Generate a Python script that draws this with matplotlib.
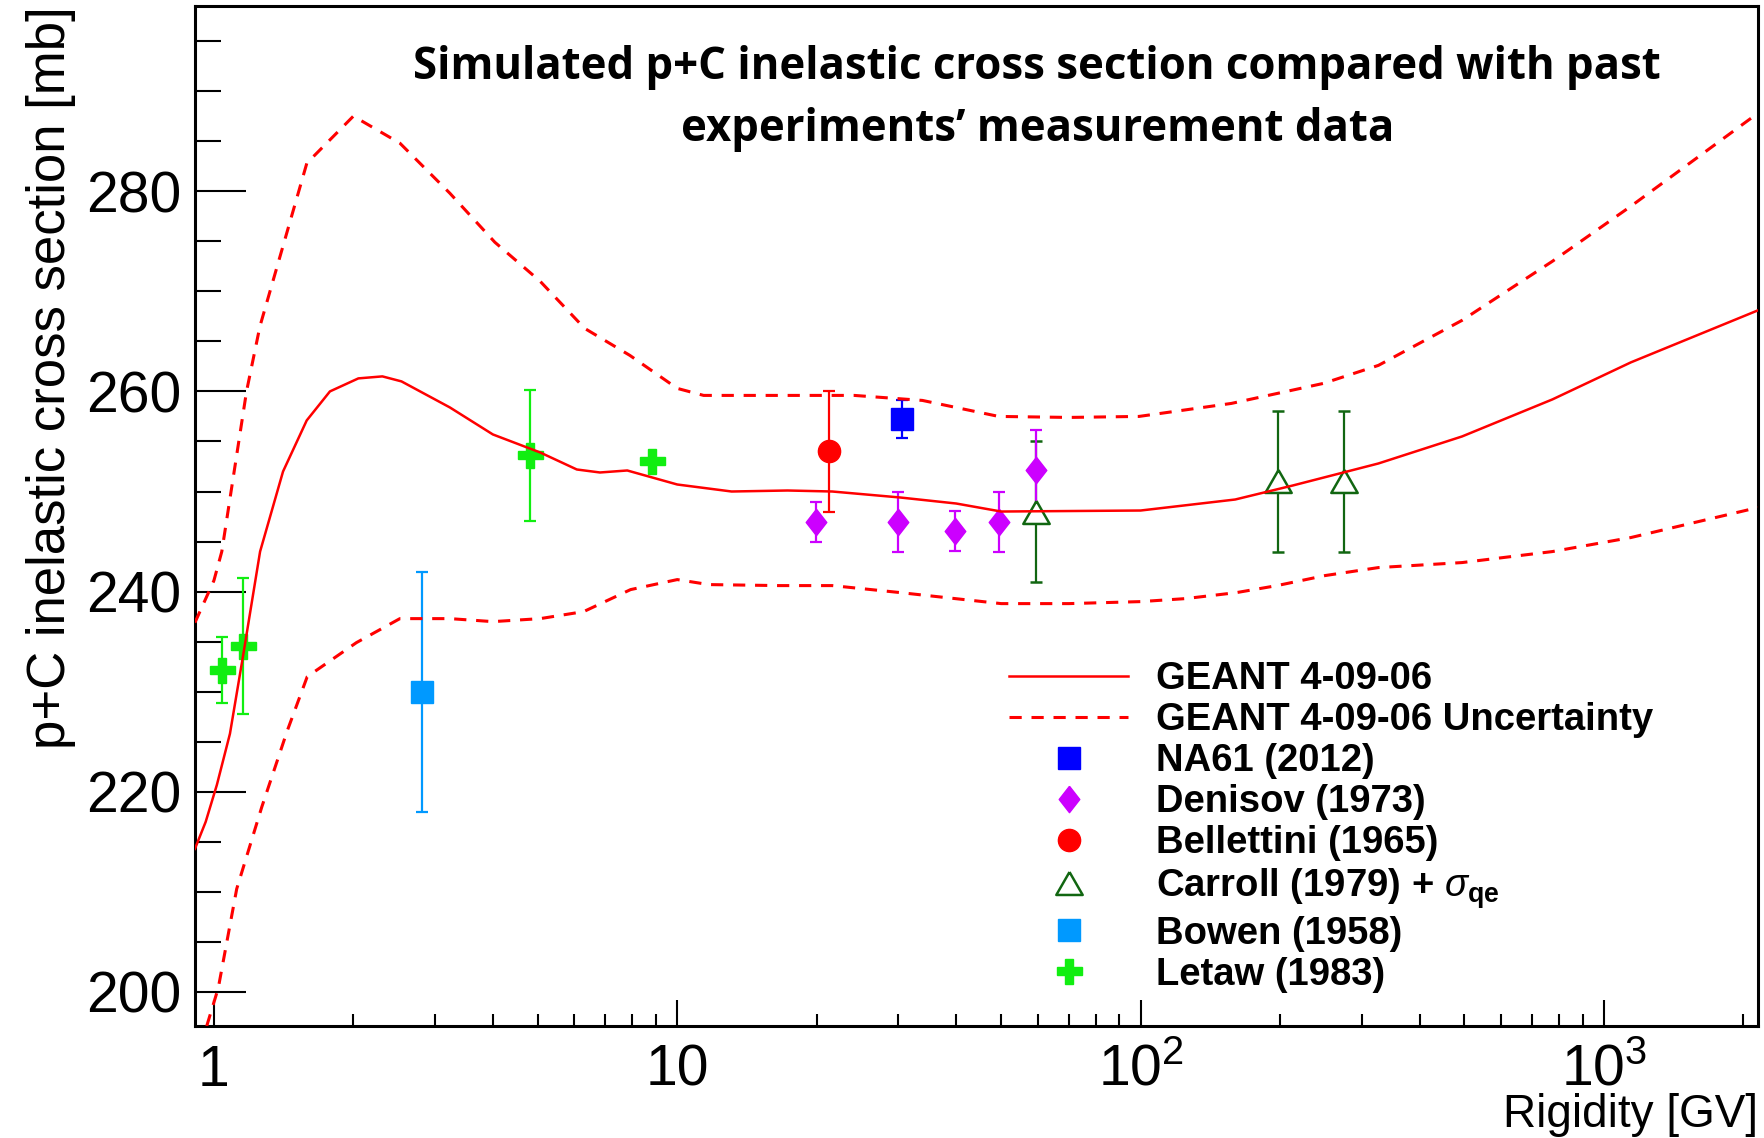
import numpy as np
import matplotlib
matplotlib.use("Agg")
import matplotlib.pyplot as plt
from matplotlib.lines import Line2D
from matplotlib.ticker import FixedLocator, FuncFormatter, LogLocator, MultipleLocator, NullFormatter

plt.rcParams['font.family'] = ['Liberation Sans', 'DejaVu Sans']
plt.rcParams['mathtext.fontset'] = 'custom'
plt.rcParams['mathtext.rm'] = 'Liberation Sans'
plt.rcParams['mathtext.it'] = 'Liberation Sans:italic'
plt.rcParams['mathtext.bf'] = 'Liberation Sans:bold'

# GEANT 4-09-06 central value
geant_rig = [0.91, 0.96, 1.015, 1.083, 1.158, 1.258, 1.41, 1.586, 1.78, 2.05, 2.31, 2.54,
             3.23, 4.0, 5.06, 6.07, 6.81, 7.8, 10, 13.1, 17.3, 21.6, 30.3, 40, 50, 100,
             160, 213, 326, 494, 774, 1143, 2150]
geant_xs = [214.3, 217.0, 220.7, 225.8, 233.8, 244.0, 252.0, 257.1, 260.0, 261.3, 261.5, 261.0,
            258.4, 255.7, 253.9, 252.2, 251.9, 252.1, 250.7, 250.0, 250.1, 250.0, 249.4, 248.8, 248.0, 248.1,
            249.2, 250.6, 252.8, 255.5, 259.2, 262.9, 268.1]

# GEANT 4-09-06 uncertainty band, upper edge
upper_rig = [0.91, 1.0, 1.04, 1.176, 1.257, 1.587, 2.0, 2.52, 3.23, 4.04, 5.06, 6.31, 7.9, 10,
             11.4, 16.6, 24.1, 33.8, 49.4, 70, 99.2, 157, 248, 326, 494, 774, 1143, 2150]
upper_xs = [236.9, 241.1, 244.0, 260.0, 266.5, 282.8, 287.5, 284.8, 279.8, 274.9, 271.0, 266.3, 263.6, 260.3,
            259.6, 259.6, 259.6, 259.1, 257.5, 257.4, 257.5, 258.8, 260.8, 262.6, 267.1, 273.0, 278.5, 287.8]

# GEANT 4-09-06 uncertainty band, lower edge
lower_rig = [0.965, 1.022, 1.12, 1.269, 1.44, 1.59, 2.03, 2.52, 3.23, 4.0, 5.06, 6.28, 7.93, 10,
             11.7, 16.6, 21.6, 30.3, 39.8, 50, 70, 100, 125, 161, 197, 250, 326, 494, 774, 1143, 2150]
lower_xs = [196.6, 200.4, 210.3, 218.5, 226.1, 231.5, 234.9, 237.3, 237.3, 237.0, 237.3, 238.0, 240.2, 241.2,
            240.7, 240.6, 240.6, 239.9, 239.3, 238.8, 238.8, 239.0, 239.3, 239.9, 240.6, 241.6, 242.4, 242.9,
            244.0, 245.4, 248.4]

# measurements: rigidity [GV], cross section [mb], error [mb]
na61_rig, na61_xs, na61_err = [30.5], [257.2], [1.9]
denisov_rig = [19.9, 29.9, 39.8, 49.4, 59.5]
denisov_xs = [247.0, 247.0, 246.1, 247.0, 252.1]
denisov_err = [2.0, 3.0, 2.0, 3.0, 4.0]
bell_rig, bell_xs, bell_err = [21.3], [254.0], [6.0]
carroll_rig = [59.5, 197.6, 274.6]
carroll_xs = [248.0, 251.0, 251.0]
carroll_err = [7.0, 7.0, 7.0]
bowen_rig, bowen_xs, bowen_err = [2.81], [230.0], [12.0]
letaw_rig = [1.039, 1.156, 4.80, 8.81]
letaw_xs = [232.2, 234.6, 253.6, 253.0]
letaw_err = [3.3, 6.8, 6.5, 0.0]

x_ticks = [1, 10, 100, 1000]

diamond = [(0, 1), (0.78, 0), (0, -1), (-0.78, 0), (0, 1)]
triangle = [(0, 1), (-1.15, -1), (1.15, -1), (0, 1)]

fig = plt.figure(figsize=(17.64, 11.38), dpi=100)
ax = fig.add_axes([0.1105, 0.0984, 0.8861, 0.8963])
ax.set_xscale('log')

ebar = dict(ls='none', elinewidth=1.6, capsize=4.3, capthick=1.6, zorder=2)
ax.errorbar(bowen_rig, bowen_xs, yerr=bowen_err, color='#0099ff', marker='s', ms=16.5, **ebar)
ax.errorbar(letaw_rig, letaw_xs, yerr=letaw_err, color='#11ee11', marker='P', ms=18, **ebar)
ax.errorbar(bell_rig, bell_xs, yerr=bell_err, color='#ff0000', marker='o', ms=16, **ebar)
ax.errorbar(na61_rig, na61_xs, yerr=na61_err, color='#0000ff', marker='s', ms=16.5, **ebar)
ax.errorbar(carroll_rig, carroll_xs, yerr=carroll_err, color='#116611', marker=triangle, ms=19,
            mfc='white', mew=1.8, **ebar)
ax.errorbar(denisov_rig, denisov_xs, yerr=denisov_err, color='#cc00ff', marker=diamond, ms=19, **ebar)

ax.plot(geant_rig, geant_xs, color='#ff0000', lw=1.8, zorder=3)
ax.plot(upper_rig, upper_xs, color='#ff0000', lw=2.2, ls=(0, (4, 3.2)), zorder=3)
ax.plot(lower_rig, lower_xs, color='#ff0000', lw=2.2, ls=(0, (4, 3.2)), zorder=3)

ax.set_xlim(0.91, 2150)
ax.set_ylim(196.6, 298.5)

ax.xaxis.set_major_locator(FixedLocator(x_ticks))
ax.xaxis.set_minor_locator(LogLocator(base=10, subs=np.arange(2, 10)))
ax.xaxis.set_minor_formatter(NullFormatter())


def rig_label(v, pos):
    e = int(round(np.log10(v)))
    if e == 0:
        return "1"
    if e == 1:
        return "10"
    return r"$\mathregular{10^{%d}}$" % e


ax.xaxis.set_major_formatter(FuncFormatter(rig_label))
ax.yaxis.set_major_locator(MultipleLocator(20))
ax.yaxis.set_minor_locator(MultipleLocator(5))

ax.tick_params(axis='both', which='both', direction='in', top=False, right=False, width=1.5, color='black')
ax.tick_params(axis='y', which='major', length=37, labelsize=41, pad=10)
ax.tick_params(axis='y', which='minor', length=19)
ax.tick_params(axis='x', which='major', length=19, labelsize=41, pad=43)
ax.tick_params(axis='x', which='minor', length=9)
for t in ax.xaxis.get_major_ticks():
    t.label1.set_verticalalignment('baseline')

for sp in ax.spines.values():
    sp.set_linewidth(2.2)

ax.set_ylabel("p+C inelastic cross section [mb]", fontsize=38, ha='right', va='center',
              rotation_mode='anchor')
ax.yaxis.set_label_coords(-0.092, 1.0)
ax.set_xlabel("Rigidity [GV]", fontsize=33, ha='right', va='baseline')
ax.xaxis.set_label_coords(1.0, -0.099)

fig.text(0.588, 0.9135, "Simulated p+C inelastic cross section compared with past\nexperiments\u2019 measurement data",
         ha='center', va='center', fontsize=31.5, fontweight='bold', family=['Open Sans', 'DejaVu Sans'],
         linespacing=1.5)

handles = [
    Line2D([], [], color='#ff0000', lw=1.8),
    Line2D([], [], color='#ff0000', lw=2.2, ls=(0, (4, 3.2))),
    Line2D([], [], color='#0000ff', marker='s', ms=16.5, ls='none'),
    Line2D([], [], color='#cc00ff', marker=diamond, ms=19, ls='none'),
    Line2D([], [], color='#ff0000', marker='o', ms=16, ls='none'),
    Line2D([], [], color='#116611', marker=triangle, ms=19, mfc='white', mew=1.8, ls='none'),
    Line2D([], [], color='#0099ff', marker='s', ms=16.5, ls='none'),
    Line2D([], [], color='#11ee11', marker='P', ms=18, ls='none'),
]
labels = ["GEANT 4-09-06", "GEANT 4-09-06 Uncertainty", "NA61 (2012)", "Denisov (1973)",
          "Bellettini (1965)", r"Carroll (1979) + $\sigma_{\mathbf{qe}}$", "Bowen (1958)", "Letaw (1983)"]
ax.legend(handles, labels, loc='upper left', bbox_to_anchor=(0.572, 0.419), bbox_transform=fig.transFigure,
          frameon=False, prop={'family': 'Liberation Sans', 'weight': 'bold', 'size': 27.5},
          handlelength=3.12, handletextpad=0.72, labelspacing=0.13, borderpad=0, borderaxespad=0)

fig.savefig("out.png", dpi=100)
